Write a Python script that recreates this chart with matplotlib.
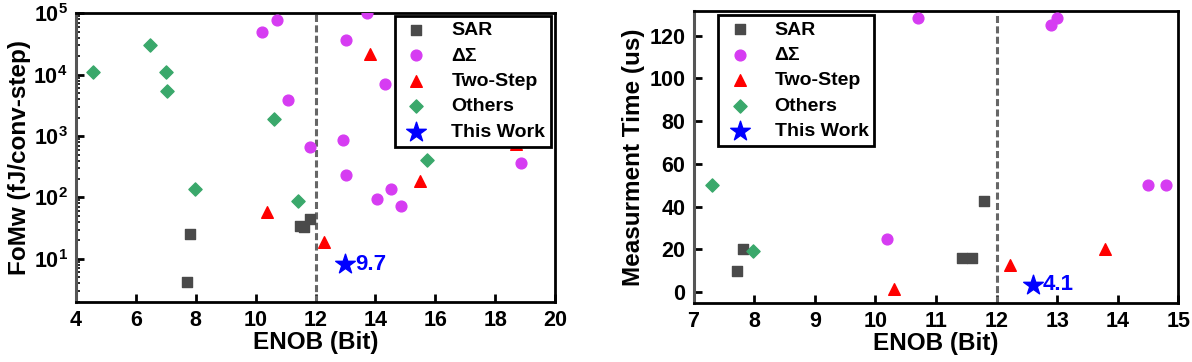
import numpy as np
import matplotlib
matplotlib.use("Agg")
import matplotlib.pyplot as plt
from matplotlib.ticker import FuncFormatter, NullFormatter, LogLocator, MultipleLocator

plt.rcParams["font.family"] = ["Liberation Sans", "DejaVu Sans"]
plt.rcParams["font.weight"] = "bold"
plt.rcParams["mathtext.fontset"] = "custom"
plt.rcParams["mathtext.bf"] = "Liberation Sans:bold"
plt.rcParams["mathtext.rm"] = "Liberation Sans:bold"

# ---- left panel: FoMw vs ENOB ----
sar_enob_l = [7.8, 7.7, 11.47, 11.62, 11.82]
sar_fom = [25, 4.2, 34, 33, 45]
ds_enob_l = [10.2, 10.72, 11.08, 11.82, 13.73, 13.02, 14.33, 12.91, 13.02, 14.53, 14.04, 14.84, 18.86]
ds_fom = [49000, 79000, 3900, 670, 100000, 37000, 7200, 850, 230, 138, 94, 73, 370]
ts_enob_l = [10.37, 13.83, 15.49, 12.27, 18.7]
ts_fom = [57, 22000, 185, 18.5, 750]
ot_enob_l = [4.56, 6.48, 6.99, 7.05, 7.97, 10.61, 11.41, 15.74]
ot_fom = [11200, 31000, 11200, 5400, 138, 1870, 87, 405]
tw_enob_l = [13.0]
tw_fom = [8.1]
tw_label_l = "9.7"

# ---- right panel: measurement time vs ENOB ----
sar_enob_r = [7.81, 7.71, 11.8, 11.43, 11.6]
sar_time = [20, 10, 42.4, 15.8, 15.8]
ds_enob_r = [10.7, 10.2, 12.9, 13.0, 14.5, 14.8]
ds_time = [128, 25, 125, 128, 50, 50]
ts_enob_r = [10.3, 12.23, 13.79]
ts_time = [1.5, 12.8, 20.3]
ot_enob_r = [7.3, 7.98]
ot_time = [50, 19]
tw_enob_r = [12.6]
tw_time = [3.5]
tw_label_r = "4.1"

labels = ["SAR", "ΔΣ", "Two-Step", "Others", "This Work"]
C_SAR, C_DS, C_TS, C_OT, C_TW = "#4a4a4a", "#d63cf2", "#ff0000", "#3aa86b", "#0000ff"

TICK_FS = 15.5
LABEL_FS = 17.5
LEG_FS = 14


def draw(ax, data, tw_label, leg_loc, leg_anchor):
    (sx, sy), (dx, dy), (tx, ty), (ox, oy), (wx, wy) = data
    ax.scatter(sx, sy, marker="s", s=48, color=C_SAR, label=labels[0], zorder=3)
    ax.scatter(dx, dy, marker="o", s=60, color=C_DS, label=labels[1], zorder=3)
    ax.scatter(tx, ty, marker="^", s=70, color=C_TS, label=labels[2], zorder=3)
    ax.scatter(ox, oy, marker="D", s=45, color=C_OT, label=labels[3], zorder=3)
    ax.scatter(wx, wy, marker="*", s=220, color=C_TW, label=labels[4], zorder=4)
    ax.annotate(tw_label, (wx[0], wy[0]), xytext=(7, 0), textcoords="offset points",
                ha="left", va="center", color=C_TW, fontsize=16, fontweight="bold")
    ax.axvline(12, color="#666666", lw=2.2, ls=(0, (2.3, 1.1)), zorder=2)
    for side in ["top", "right", "bottom"]:
        ax.spines[side].set_linewidth(2)
        ax.spines[side].set_color("black")
    ax.spines["left"].set_linewidth(2.2)
    ax.spines["left"].set_color("#555555")
    ax.tick_params(which="major", direction="in", length=6, width=2, labelsize=TICK_FS, pad=6)
    ax.tick_params(which="minor", direction="in", length=3, width=1.2)
    ax.set_xlabel("ENOB (Bit)", fontsize=LABEL_FS, fontweight="bold", labelpad=0)
    leg = ax.legend(loc=leg_loc, bbox_to_anchor=leg_anchor, frameon=True, fancybox=False,
                    edgecolor="black", framealpha=1, borderpad=0.3, labelspacing=0.4,
                    handletextpad=1.0, borderaxespad=0, handlelength=1.6,
                    prop={"weight": "bold", "size": LEG_FS})
    leg.get_frame().set_linewidth(2)
    leg.set_zorder(5)


fig = plt.figure(figsize=(11.92, 3.62), dpi=100)
ax1 = fig.add_axes([0.0638, 0.1666, 0.4018, 0.7964])
ax2 = fig.add_axes([0.5819, 0.1638, 0.4066, 0.8058])

draw(ax1, [(sar_enob_l, sar_fom), (ds_enob_l, ds_fom), (ts_enob_l, ts_fom),
           (ot_enob_l, ot_fom), (tw_enob_l, tw_fom)], tw_label_l,
     "upper right", (0.992, 0.992))
ax1.set_yscale("log")
ax1.set_xlim(4, 20)
ax1.set_ylim(2, 1e5)
ax1.xaxis.set_major_locator(MultipleLocator(2))
ax1.yaxis.set_major_locator(LogLocator(base=10, numticks=10))
ax1.yaxis.set_minor_locator(LogLocator(base=10, subs=np.arange(2, 10), numticks=20))
ax1.yaxis.set_major_formatter(FuncFormatter(lambda v, p: r"$\mathbf{10^{%d}}$" % round(np.log10(v))))
ax1.yaxis.set_minor_formatter(NullFormatter())
ax1.set_ylabel("FoMw (fJ/conv-step)", fontsize=LABEL_FS, fontweight="bold", labelpad=2)

draw(ax2, [(sar_enob_r, sar_time), (ds_enob_r, ds_time), (ts_enob_r, ts_time),
           (ot_enob_r, ot_time), (tw_enob_r, tw_time)], tw_label_r,
     "upper left", (0.051, 0.986))
ax2.set_xlim(7, 15)
ax2.set_ylim(-5, 131.5)
ax2.xaxis.set_major_locator(MultipleLocator(1))
ax2.yaxis.set_major_locator(MultipleLocator(20))
ax2.set_ylabel("Measurment Time (us)", fontsize=LABEL_FS, fontweight="bold", labelpad=3)

fig.savefig("out.png", dpi=100)
